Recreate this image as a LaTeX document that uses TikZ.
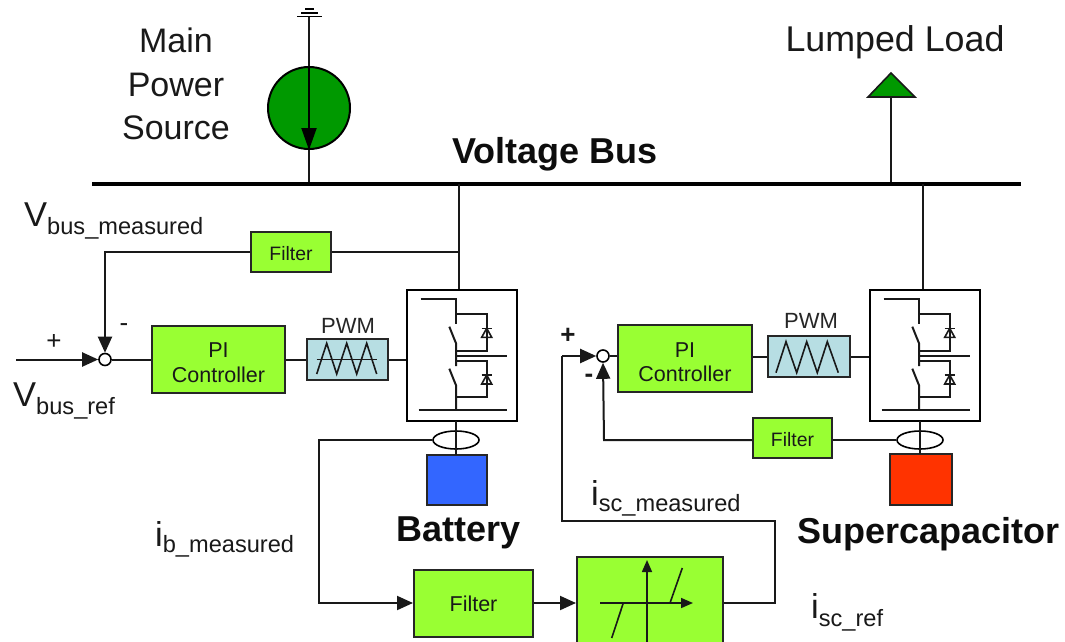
\documentclass[tikz,border=0pt]{standalone}
\usepackage{fontspec}
\setmainfont{Liberation Sans}
\usetikzlibrary{arrows.meta,shapes.geometric,calc}
\definecolor{boxgreen}{HTML}{99FF33}
\definecolor{srcgreen}{HTML}{009900}
\definecolor{pwmblue}{HTML}{B7DEE3}
\definecolor{battblue}{HTML}{3366FF}
\definecolor{capred}{HTML}{FF3300}
\newcommand{\fsz}[1]{\fontsize{#1}{#1}\selectfont}
\newcommand{\lab}[3]{\hbox{\fsz{34.5}#1\raisebox{#3}{\fsz{23.6}#2}}}
\newcommand{\dn}[1]{\rule{0pt}{#1}}
\tikzset{
  x=1pt,y=-1pt,
  wire/.style={line width=2pt,draw=black!90},
  thin wire/.style={line width=1.6pt,draw=black!90},
  arrowed/.style={wire,-{Triangle[length=16pt,width=14pt]}},
  axisarrow/.style={thin wire,-{Triangle[length=12pt,width=10pt]}},
  ctrlbox/.style={draw=black!85,line width=2pt,fill=boxgreen,inner sep=0pt,align=center,font=\fsz{21.5},text=black!90},
  pwmbox/.style={draw=black!85,line width=2pt,fill=pwmblue,inner sep=0pt},
  convbox/.style={draw=black,line width=2pt,fill=white,inner sep=0pt,minimum width=110pt,minimum height=131pt},
  sumnode/.style={circle,draw=black,line width=1.6pt,fill=white,inner sep=0pt,minimum size=12pt},
  ringnode/.style={ellipse,draw=black,line width=1.6pt,inner sep=0pt,minimum width=46pt,minimum height=18pt},
  storage/.style={draw=black!85,line width=2pt,inner sep=0pt},
  bigtext/.style={inner sep=0pt,font=\fsz{35.8},text=black!90},
  boldtext/.style={inner sep=0pt,font=\fsz{36}\bfseries,text=black!95},
  smalltext/.style={inner sep=0pt,font=\fsz{22},text=black!85},
  symbolmark/.style={inner sep=0pt,font=\fsz{26}\bfseries,text=black!90},
  labeltext/.style={inner sep=0pt,anchor=base west,text=black!90},
  pics/convinner/.style={code={
    \draw[wire] (13.7,9.3) -- (49,9.3) -- (49,34);
    \draw[wire] (49,24) -- (79.7,24) -- (79.7,60.7) -- (49,60.7);
    \draw[wire] (42.3,36.7) -- (49,53.3) -- (49,76);
    \draw[wire] (49,66) -- (99.7,66);
    \draw[wire] (49,70.7) -- (79.7,70.7) -- (79.7,107.3) -- (49,107.3);
    \draw[wire] (42.3,78.7) -- (49,95.3) -- (49,120);
    \draw[wire] (11.7,120) -- (99.7,120);
    \draw[thin wire] (74.7,47.3) -- (84.7,47.3) -- (79.7,38.3) -- cycle;
    \draw[thin wire] (74.7,38.3) -- (84.7,38.3);
    \draw[thin wire] (74.7,94) -- (84.7,94) -- (79.7,85) -- cycle;
    \draw[thin wire] (74.7,85) -- (84.7,85);
  }}
}
\begin{document}
\begin{tikzpicture}
\clip (0,0) rectangle (1065,642);
\fill[white] (0,0) rectangle (1065,642);

% named points on the bus and on wires
\coordinate (gnd) at (309,17);
\coordinate (busL) at (92,184);
\coordinate (busR) at (1021,184);
\coordinate (srcBus) at (309,184);
\coordinate (loadBus) at (891,184);
\coordinate (busA) at (459,184);
\coordinate (busB) at (923,184);
\coordinate (tapA) at (459,252);
\coordinate (inA) at (16,359.5);
\coordinate (fbCornerA) at (105,252);
\coordinate (ibTurn) at (319,440);
\coordinate (ibLow) at (319,603);
\coordinate (iscA) at (775,603);
\coordinate (iscB) at (775,521);
\coordinate (iscC) at (562,521);
\coordinate (iscD) at (562,356);
\coordinate (fbCornerB) at (604,440);

% main power source
\node[circle,draw=black,line width=2pt,fill=srcgreen,inner sep=0pt,minimum size=82pt] (src) at (309,108) {};
\draw[thin wire] (gnd) -- (src.north);
\draw[thin wire] (src.south) -- (srcBus);
\draw[line width=2pt,-{Triangle[length=22pt,width=15pt]}] (src.north) -- (src.south);
\draw[line width=1.6pt] (297,16.5) -- (322,16.5) (301,13) -- (318,13) (305,9) -- (314,9);
\node[inner sep=0pt,align=center,font=\fontsize{34}{43.5}\selectfont,text=black!90] (srclabel) at (176,84) {Main\\Power\\Source};

% lumped load
\node[bigtext,anchor=base] (loadlabel) at (895,52) {Lumped Load};
\coordinate (loadTop) at (891,97);
\draw[line width=1.6pt,draw=black!90,fill=srcgreen] (868,97) -- (915,97) -- (891,73) -- cycle;
\draw[thin wire] (loadBus) -- (loadTop);

% bus
\draw[line width=4.5pt] (busL) -- (busR);
\node[boldtext,anchor=base] (buslabel) at (555,163) {Voltage Bus};

% battery side
\node[sumnode] (sum1) at (105,359.5) {};
\node[ctrlbox,minimum width=133pt,minimum height=67pt] (pi1) at (218.5,359.5) {\dn{22pt}PI\\[3.5pt]Controller};
\node[pwmbox,minimum width=81pt,minimum height=41pt] (pwm1) at (347.5,359.5) {};
\node[convbox] (conv1) at (462,355.5) {};
\pic at (407,290) {convinner};
\draw[thin wire] (316.7,359.3) -- (376.7,359.3);
\draw[thin wire] (316.7,374) -- (326.7,343.3) -- (336.7,374) -- (346.7,343.3) -- (356.7,374) -- (366.7,343.3) -- (376.7,374);
\node[smalltext,anchor=base] (pwmlabel1) at (348,333) {PWM};
\node[ctrlbox,minimum width=80pt,minimum height=40pt,font=\fsz{19.4}] (filt1) at (291,252) {\dn{18pt}Filter};
\node[ringnode] (ring1) at (456,440) {};
\node[storage,fill=battblue,minimum width=60pt,minimum height=50pt] (batt) at (457,480) {};
\node[boldtext,anchor=base] (battlabel) at (459,541) {Battery};

\draw[wire] (busA) -- (busA |- conv1.north);
\draw[wire] (tapA) -- (filt1.east);
\draw[arrowed] (filt1.west) -- (fbCornerA) -- (sum1.north);
\draw[arrowed] (inA) -- (sum1.west);
\draw[wire] (sum1.east) -- (pi1.west);
\draw[wire] (pi1.east) -- (pwm1.west);
\draw[wire] (pwm1.east) -- (pwm1.east -| conv1.west);
\draw[wire] (456,421) -- (456,455);
\node[inner sep=0pt,font=\fsz{26},text=black!90] (plus1) at (54,342) {+};
\node[inner sep=0pt,font=\fsz{26},text=black!90] (minus1) at (124,328) {-};

% supercapacitor side
\node[sumnode] (sum2) at (603,356) {};
\node[ctrlbox,minimum width=134pt,minimum height=67pt] (pi2) at (685,358.5) {\dn{22pt}PI\\[3pt]Controller};
\node[pwmbox,minimum width=82pt,minimum height=41pt] (pwm2) at (809,356.5) {};
\node[convbox] (conv2) at (925,355.5) {};
\pic at (870,290) {convinner};
\draw[thin wire] (776,372.7) -- (786,341.7) -- (796.7,372.7) -- (806.7,341.7) -- (817.3,372.7) -- (827.3,341.7) -- (838.3,372.7);
\node[smalltext,anchor=base] (pwmlabel2) at (811,328) {PWM};
\node[ctrlbox,minimum width=79pt,minimum height=40pt,font=\fsz{19.4}] (filt2) at (792.5,438) {\dn{18pt}Filter};
\node[ringnode] (ring2) at (920,440) {};
\node[storage,fill=capred,minimum width=62pt,minimum height=51pt] (cap) at (921,479.5) {};
\node[boldtext,anchor=base] (caplabel) at (928.5,543) {Supercapacitor};

\draw[wire] (busB) -- (busB |- conv2.north);
\draw[wire] (sum2.east) -- (sum2.east -| pi2.west);
\draw[wire] (pwm2.west -| pi2.east) -- (pwm2.west);
\draw[wire] (pwm2.east) -- (pwm2.east -| conv2.west);
\draw[wire] (920,421) -- (920,454);
\draw[wire] (filt2.east |- ring2.west) -- (ring2.west);
\draw[arrowed] (filt2.west |- fbCornerB) -- (fbCornerB) -- (sum2.south);
\node[symbolmark] (plus2) at (568,336) {+};
\node[symbolmark] (minus2) at (589,378) {-};

% lower chain
\node[ctrlbox,minimum width=119pt,minimum height=67pt] (filt3) at (473.5,603.5) {Filter};
\node[ctrlbox,minimum width=146pt,minimum height=104pt] (dz) at (650,609) {};
\draw[arrowed] (ring1.west) -- (ibTurn) -- (ibLow) -- (filt3.west |- ibLow);
\draw[arrowed] (filt3.east |- ibLow) -- (dz.west |- ibLow);
\draw[wire] (dz.east |- iscA) -- (iscA) -- (iscB) -- (iscC) -- (iscD);
\draw[arrowed] (iscD) -- (sum2.west);
\draw[axisarrow] (647,642) -- (647,560);
\draw[axisarrow] (600,603) -- (693,603);
\draw[thin wire] (623.3,603) -- (611.7,638);
\draw[thin wire] (670,603) -- (682.3,568);

% measurement labels
\node[labeltext] (vmeas) at (24,226) {\lab{V}{bus\_measured}{-8pt}};
\node[labeltext] (vref) at (13,406) {\lab{V}{bus\_ref}{-8pt}};
\node[labeltext] (ibm) at (155,546) {\lab{i}{b\_measured}{-6pt}};
\node[labeltext] (iscm) at (591,505) {\lab{i}{sc\_measured}{-6pt}};
\node[labeltext] (iscr) at (811,618) {\lab{i}{sc\_ref}{-8pt}};
\end{tikzpicture}
\end{document}
